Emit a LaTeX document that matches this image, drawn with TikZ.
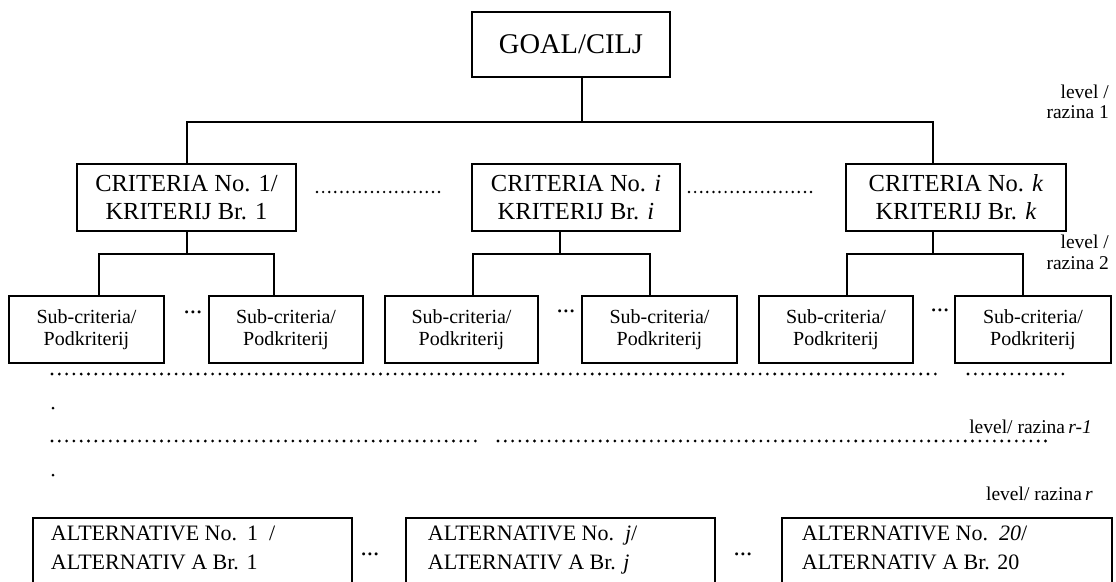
\documentclass[tikz,border=0pt]{standalone}
\usepackage{fontspec}
\setmainfont{Liberation Serif}
\begin{document}
\begin{tikzpicture}[x=1pt,y=-1pt,
  box/.style={draw, line width=1.9pt, inner sep=0pt, align=center},
  goalbox/.style={box, minimum width=198pt, minimum height=65pt, font=\fontsize{28.5}{33}\selectfont},
  critbox/.style={box, font=\fontsize{24.5}{28}\selectfont, minimum height=67pt},
  subbox/.style={box, font=\fontsize{20}{22}\selectfont, minimum height=67pt},
  altbox/.style={draw, line width=1.9pt, anchor=north west, inner ysep=8pt, font=\fontsize{22}{29}\selectfont},
  link/.style={line width=1.9pt},
  dotrow/.style={line width=3.1pt, line cap=round, dash pattern=on 0pt off 7.3pt},
  dotrowc/.style={line width=2.7pt, line cap=round, dash pattern=on 0pt off 6.1pt},
  lvl/.style={font=\fontsize{19.5}{20.5}\selectfont, align=right, inner sep=0pt},
  ell/.style={inner sep=0pt, anchor=base, font=\fontsize{25}{25}\selectfont}
]
\useasboundingbox (0,0) rectangle (1116,581);
\clip (0,0) rectangle (1116,581);

% goal
\node[goalbox] (goal) at (571,44.5) {GOAL/CILJ};

% criteria
\node[critbox, minimum width=219pt] (c1) at (186.5,197.5) {CRITERIA No. 1/\\KRITERIJ Br. 1};
\node[critbox, minimum width=208pt] (ci) at (576,197.5) {CRITERIA No. \textit{i}\\KRITERIJ Br. \textit{i}};
\node[critbox, minimum width=220pt] (ck) at (956,197.5) {CRITERIA No. \textit{k}\\KRITERIJ Br. \textit{k}};

% sub-criteria
\node[subbox, minimum width=155pt] (s1) at (86.5,329.5) {Sub-criteria/\\Podkriterij};
\node[subbox, minimum width=154pt] (s2) at (286,329.5) {Sub-criteria/\\Podkriterij};
\node[subbox, minimum width=153pt] (s3) at (461.5,329.5) {Sub-criteria/\\Podkriterij};
\node[subbox, minimum width=155pt] (s4) at (659.5,329.5) {Sub-criteria/\\Podkriterij};
\node[subbox, minimum width=154pt] (s5) at (836,329.5) {Sub-criteria/\\Podkriterij};
\node[subbox, minimum width=156pt] (s6) at (1033,329.5) {Sub-criteria/\\Podkriterij};

% alternatives
\node[altbox, inner xsep=18pt] (a1) at (32,517)
  {\parbox[t][100pt][t]{283pt}{\raggedright ALTERNATIVE No.\hspace{0.45em}1\hspace{0.5em}/\\ALTERNATIV A Br.\hspace{0.35em}1}};
\node[altbox, inner xsep=22pt] (a2) at (405,517)
  {\parbox[t][100pt][t]{265pt}{\raggedright ALTERNATIVE No.\hspace{0.5em}\textit{j}/\\ALTERNATIV A Br. \textit{j}}};
\node[altbox, inner xsep=20pt] (a3) at (781,517)
  {\parbox[t][100pt][t]{290pt}{\raggedright ALTERNATIVE No.\hspace{0.5em}\textit{20}/\\ALTERNATIV A Br. 20}};

% level labels
\node[lvl, anchor=east] (l1) at (1109,102) {level /\\razina 1};
\node[lvl, anchor=east] (l2) at (1109,252.5) {level /\\razina 2};
\node[lvl, anchor=base east] (l3) at (1092,433) {level/ razina\,\textit{r-1}};
\node[lvl, anchor=base east] (l4) at (1093,500) {level/ razina\,\textit{r}};

% ellipses
\node[ell] (e1) at (193,313) {...};
\node[ell] (e2) at (566,312) {...};
\node[ell] (e3) at (940,311) {...};
\node[ell] (e4) at (370,555) {...};
\node[ell] (e5) at (743,555) {...};

% connectors top level
\coordinate (gj) at (582,122);
\coordinate (bl) at (187,122);
\coordinate (br) at (933,122);
\draw[link] (goal.south -| gj) -- (gj);
\draw[link] (c1.north -| bl) -- (bl) -- (br) -- (ck.north -| br);

% connectors to sub-criteria
\coordinate (j1) at (187,254);
\coordinate (d11) at (99,254);
\coordinate (d12) at (274,254);
\draw[link] (c1.south -| j1) -- (j1);
\draw[link] (s1.north -| d11) -- (d11) -- (d12) -- (s2.north -| d12);

\coordinate (j2) at (560,254);
\coordinate (d21) at (473,254);
\coordinate (d22) at (650,254);
\draw[link] (ci.south -| j2) -- (j2);
\draw[link] (s3.north -| d21) -- (d21) -- (d22) -- (s4.north -| d22);

\coordinate (j3) at (933,254);
\coordinate (d31) at (847,254);
\coordinate (d32) at (1023,254);
\draw[link] (ck.south -| j3) -- (j3);
\draw[link] (s5.north -| d31) -- (d31) -- (d32) -- (s6.north -| d32);

% dotted rows
\draw[dotrowc] (317,192) -- (441,192);
\draw[dotrowc] (689,192) -- (814,192);
\draw[dotrow] (52,374) -- (936,374);
\draw[dotrow] (968,374) -- (1063,374);
\draw[dotrow] (52,441) -- (482,441);
\draw[dotrow] (498,441) -- (1049,441);
\fill (53,408) circle (1.5pt);
\fill (53,475) circle (1.5pt);
\end{tikzpicture}
\end{document}
